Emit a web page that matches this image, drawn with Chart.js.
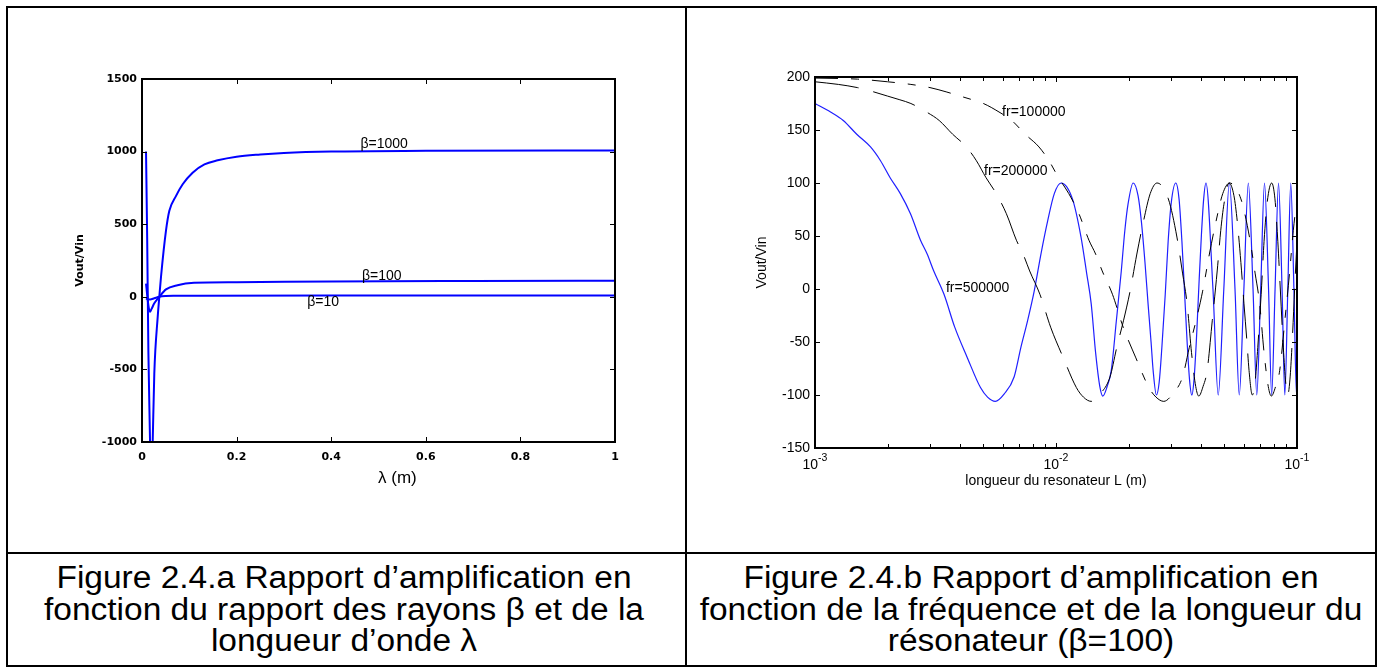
<!DOCTYPE html>
<html>
<head>
<meta charset="utf-8">
<title>Figure 2.4</title>
<script src="https://cdn.jsdelivr.net/npm/chart.js"></script>
<style>
    body {
        margin: 0;
        width: 1381px;
        height: 668px;
        position: relative;
        overflow: hidden;
        background: #fff;
        font-family: "Liberation Sans", Arial, sans-serif;
    }
    .frame {
        position: absolute;
        left: 6px; top: 6px;
        width: 1371px; height: 661px;
        border: 2px solid #000;
        box-sizing: border-box;
    }
    .vline { position: absolute; left: 685px; top: 6px; width: 2px; height: 661px; background: #000; }
    .hline { position: absolute; left: 6px; top: 552px; width: 1371px; height: 2px; background: #000; }
    canvas { position: absolute; }
    .caption {
        position: absolute;
        top: 562px;
        width: 680px;
        text-align: center;
        white-space: nowrap;
        font-size: 31px;
        line-height: 31.5px;
        color: #000;
        transform: scaleX(1.08);
    }
</style>
</head>
<body>

<div class="frame"></div>
<div class="vline"></div>
<div class="hline"></div>

<canvas id="chartA" width="676" height="544" style="left:8px; top:8px;"></canvas>
<canvas id="chartB" width="686" height="544" style="left:688px; top:8px;"></canvas>

<div class="caption" style="left:4px;">Figure 2.4.a Rapport d’amplification en<br>fonction du rapport des rayons β et de la<br>longueur d’onde λ</div>
<div class="caption" style="left:691px;">Figure 2.4.b Rapport d’amplification en<br>fonction de la fréquence et de la longueur du<br>résonateur (β=100)</div>

<script>
// ---- figure a : Vout/Vin vs lambda, three beta values ----
var lamB1000 = [0.0085, 0.011, 0.0135, 0.017, 0.019, 0.021, 0.0226, 0.026, 0.0332, 0.0366, 0.0402, 0.0507, 0.0578, 0.072, 0.086, 0.107, 0.132, 0.16, 0.2, 0.25, 0.3, 0.4, 0.6, 1.0];
var valB1000 = [1000, 390, -380, -1000, -1500, -1200, -1000, -530, -138, 0, 138, 455, 592, 695, 775, 855, 912, 940, 965, 980, 990, 1000, 1005, 1008];

var lamB100 = [0.0085, 0.0095, 0.012, 0.0145, 0.017, 0.02, 0.026, 0.0366, 0.0507, 0.075, 0.11, 0.2, 0.4, 0.7, 1.0];
var valB100 = [90, 60, -20, -80, -103, -85, -45, 0, 51, 80, 96, 100, 106, 109, 110];

var lamB10 = [0.0085, 0.012, 0.017, 0.026, 0.0366, 0.05, 0.07, 0.12, 0.4, 1.0];
var valB10 = [-10, -16, -18, -10, 0, 5, 7, 8, 9, 9];

var betaNotes = [
    {text: 'β=1000', x: 0.512, y: 1050},
    {text: 'β=100', x: 0.507, y: 139},
    {text: 'β=10', x: 0.383, y: -40}
];

// ---- figure b : Vout/Vin vs resonator length, three frequencies ----
var lenFr500k = [0.001, 0.00116, 0.00131, 0.00149, 0.0017, 0.00187, 0.00205, 0.00226, 0.00249, 0.00274,
    0.00292, 0.00311, 0.00343, 0.0038, 0.00429, 0.00486, 0.0052, 0.0056, 0.0061, 0.0067,
    0.00715, 0.00762, 0.00812, 0.00866, 0.00923, 0.00984, 0.0105,
    0.0117, 0.0127, 0.0134, 0.014, 0.0146, 0.0152, 0.01565, 0.0163, 0.01695, 0.0178, 0.01866, 0.0193, 0.0199, 0.0209,
    0.0219, 0.0226, 0.0234, 0.0241, 0.0248, 0.0253, 0.0261, 0.0268, 0.0275, 0.0284, 0.0292, 0.0301, 0.0314,
    0.0324, 0.0333, 0.0341, 0.035, 0.0358, 0.0366, 0.0374, 0.0383, 0.0392, 0.0401, 0.041, 0.0419,
    0.0448, 0.0471, 0.0497, 0.0524, 0.0553, 0.0576, 0.0602, 0.0628, 0.0657, 0.0681, 0.0707, 0.0733,
    0.0762, 0.0785, 0.0811, 0.0838, 0.0867, 0.089, 0.0916, 0.0942, 0.0971, 0.0995, 0.1021];
var valFr500k = [175, 167, 159, 146, 134, 121, 105, 90, 71, 46,
    33, 17, -5, -36, -65, -93, -102, -106, -99, -83,
    -55, -30, -2, 33, 64, 90, 100,
    85, 49, 15, -14, -60, -92, -101, -92, -77, -30, 17, 55, 80, 100,
    88, 64, 25, -14, -50, -77, -100, -88, -55, -5, 45, 82, 100,
    85, 45, 0, -50, -85, -100, -85, -45, 5, 50, 85, 100,
    0, -100, 0, 100, 0, -100, 0, 100, 0, -100, 0, 100,
    0, -100, 0, 100, 0, -100, 0, 100, 0, -100, 0];

var lenFr200k = [0.001, 0.00125, 0.0015, 0.00175, 0.002, 0.00225,
    0.0025, 0.0029, 0.003275, 0.003725, 0.00425, 0.004675, 0.005125, 0.00565, 0.006225, 0.00685,
    0.0073, 0.007775, 0.008575, 0.0095, 0.010725, 0.01215, 0.013, 0.014, 0.01525, 0.01675,
    0.017875, 0.01905, 0.0203, 0.02165, 0.023075, 0.0246, 0.02625,
    0.02925, 0.03175, 0.0335, 0.035, 0.0365, 0.038, 0.039125, 0.04075, 0.042375, 0.0445, 0.04665, 0.04825, 0.04975, 0.05225,
    0.05475, 0.0565, 0.0585, 0.06025, 0.062, 0.06325, 0.06525, 0.067, 0.06875, 0.071, 0.073, 0.07525, 0.0785,
    0.081, 0.08325, 0.08525, 0.0875, 0.0895, 0.0915, 0.0935, 0.09575, 0.098, 0.10025];
var valFr200k = [195.5, 193, 190, 186, 182, 178.5,
    175, 167, 159, 146, 134, 121, 105, 90, 71, 46,
    33, 17, -5, -36, -65, -93, -102, -106, -99, -83,
    -55, -30, -2, 33, 64, 90, 100,
    85, 49, 15, -14, -60, -92, -101, -92, -77, -30, 17, 55, 80, 100,
    88, 64, 25, -14, -50, -77, -100, -88, -55, -5, 45, 82, 100,
    85, 45, 0, -50, -85, -100, -85, -45, 5, 50];

var lenFr100k = [0.001, 0.0015, 0.002, 0.0025, 0.003, 0.0035, 0.004, 0.0045,
    0.005, 0.0058, 0.00655, 0.00745, 0.0085, 0.00935, 0.01025, 0.0113, 0.01245, 0.0137,
    0.0146, 0.01555, 0.01715, 0.019, 0.02145, 0.0243, 0.026, 0.028, 0.0305, 0.0335,
    0.03575, 0.0381, 0.0406, 0.0433, 0.04615, 0.0492, 0.0525,
    0.0585, 0.0635, 0.067, 0.07, 0.073, 0.076, 0.07825, 0.0815, 0.08475, 0.089, 0.0933, 0.0965, 0.0995, 0.1045];
var valFr100k = [199, 198, 195.5, 193, 190, 186, 182, 178.5,
    175, 167, 159, 146, 134, 121, 105, 90, 71, 46,
    33, 17, -5, -36, -65, -93, -102, -106, -99, -83,
    -55, -30, -2, 33, 64, 90, 100,
    85, 49, 15, -14, -60, -92, -101, -92, -77, -30, 17, 55, 80, 100];

var lenTicks = [0.001, 0.002, 0.003, 0.004, 0.005, 0.006, 0.007, 0.008, 0.009,
    0.01, 0.02, 0.03, 0.04, 0.05, 0.06, 0.07, 0.08, 0.09, 0.1];

var freqNotes = [
    {text: 'fr=100000', x: 0.00809, y: 167},
    {text: 'fr=200000', x: 0.00681, y: 111},
    {text: 'fr=500000', x: 0.00473, y: 1}
];

function pts(xs, ys) {
    return xs.map(function (v, i) { return {x: v, y: ys[i]}; });
}

Chart.defaults.font.family = '"Liberation Sans", Arial, sans-serif';
Chart.defaults.color = '#000';

// matlab style box: frame, inward ticks, text notes, 10^n labels
var boxTicks = {
    id: 'boxTicks',
    afterDatasetsDraw: function (chart, args, opts) {
        var ctx = chart.ctx, a = chart.chartArea;
        var xs = chart.scales.x, ys = chart.scales.y;
        ctx.save();
        ctx.setLineDash([]);
        ctx.strokeStyle = '#000';
        ctx.lineWidth = 1;
        xs.ticks.forEach(function (t) {
            var px = Math.round(xs.getPixelForValue(t.value)) + 0.5;
            var len = opts.tickLen;
            if (opts.log) {
                var e = Math.log10(t.value);
                if (Math.abs(e - Math.round(e)) > 1e-6) len = opts.minorLen;
            }
            ctx.beginPath();
            ctx.moveTo(px, a.bottom); ctx.lineTo(px, a.bottom - len);
            ctx.moveTo(px, a.top); ctx.lineTo(px, a.top + len);
            ctx.stroke();
        });
        ys.ticks.forEach(function (t) {
            var py = Math.round(ys.getPixelForValue(t.value)) + 0.5;
            ctx.beginPath();
            ctx.moveTo(a.left, py); ctx.lineTo(a.left + opts.tickLen, py);
            ctx.moveTo(a.right, py); ctx.lineTo(a.right - opts.tickLen, py);
            ctx.stroke();
        });
        ctx.lineWidth = 2;
        ctx.strokeRect(a.left, a.top, a.right - a.left, a.bottom - a.top);

        ctx.fillStyle = '#000';
        ctx.textAlign = 'center';
        ctx.textBaseline = 'middle';
        ctx.font = opts.noteFont;
        (opts.notes || []).forEach(function (n) {
            ctx.fillText(n.text, xs.getPixelForValue(n.x), ys.getPixelForValue(n.y));
        });

        if (opts.log) {
            xs.ticks.forEach(function (t) {
                var e = Math.log10(t.value);
                if (Math.abs(e - Math.round(e)) > 1e-6) return;
                var px = xs.getPixelForValue(t.value);
                var sup = String(Math.round(e));
                ctx.font = '14px "Liberation Sans", Arial, sans-serif';
                var wb = ctx.measureText('10').width;
                ctx.font = '10.5px "Liberation Sans", Arial, sans-serif';
                var ws = ctx.measureText(sup).width;
                var x0 = px - (wb + ws) / 2;
                ctx.textAlign = 'left';
                ctx.font = '14px "Liberation Sans", Arial, sans-serif';
                ctx.fillText('10', x0, a.bottom + 17);
                ctx.font = '10.5px "Liberation Sans", Arial, sans-serif';
                ctx.fillText(sup, x0 + wb, a.bottom + 10);
            });
        }
        ctx.restore();
    }
};

var boldTick = {family: '"DejaVu Sans", sans-serif', size: 11, weight: 'bold'};

new Chart(document.getElementById('chartA'), {
    type: 'line',
    data: {
        datasets: [
            {data: pts(lamB1000, valB1000), borderColor: '#0000ff', borderWidth: 2},
            {data: pts(lamB100, valB100), borderColor: '#0000ff', borderWidth: 2},
            {data: pts(lamB10, valB10), borderColor: '#0000ff', borderWidth: 2}
        ]
    },
    options: {
        responsive: false,
        animation: false,
        elements: {point: {radius: 0}, line: {cubicInterpolationMode: 'monotone'}},
        layout: {padding: {left: 0, top: 71, right: 69, bottom: 0}},
        plugins: {
            legend: {display: false},
            tooltip: {enabled: false},
            boxTicks: {tickLen: 5, notes: betaNotes, noteFont: '14px "Liberation Sans", Arial, sans-serif'}
        },
        scales: {
            x: {
                type: 'linear', min: 0, max: 1,
                afterFit: function (s) { s.height = 110; },
                grid: {display: false, drawTicks: false},
                border: {display: false},
                ticks: {stepSize: 0.2, padding: 9, font: boldTick, maxRotation: 0,
                    callback: function (v) { return String(Math.round(v * 10) / 10); }},
                title: {display: true, text: '        λ (m)', font: {size: 17}, padding: {top: 0, bottom: 63}}
            },
            y: {
                min: -1000, max: 1500,
                afterFit: function (s) { s.width = 134; },
                grid: {display: false, drawTicks: false},
                border: {display: false},
                ticks: {stepSize: 500, padding: 5, font: boldTick,
                    callback: function (v) { return String(v); }},
                title: {display: true, text: 'Vout/Vin', font: boldTick, padding: {top: 66, bottom: 0}}
            }
        }
    },
    plugins: [boxTicks]
});

new Chart(document.getElementById('chartB'), {
    type: 'line',
    data: {
        datasets: [
            {data: pts(lenFr100k, valFr100k), borderColor: '#000', borderWidth: 1, borderDash: [23, 13, 8, 13]},
            {data: pts(lenFr200k, valFr200k), borderColor: '#000', borderWidth: 1, borderDash: [44, 15]},
            {data: pts(lenFr500k, valFr500k), borderColor: '#1f1fff', borderWidth: 1.2}
        ]
    },
    options: {
        responsive: false,
        animation: false,
        elements: {point: {radius: 0}, line: {cubicInterpolationMode: 'monotone'}},
        layout: {padding: {left: 0, top: 69, right: 77, bottom: 0}},
        plugins: {
            legend: {display: false},
            tooltip: {enabled: false},
            boxTicks: {tickLen: 5, minorLen: 4, log: true, notes: freqNotes, noteFont: '14px "Liberation Sans", Arial, sans-serif'}
        },
        scales: {
            x: {
                type: 'logarithmic', min: 0.001, max: 0.1,
                afterBuildTicks: function (s) { s.ticks = lenTicks.map(function (v) { return {value: v}; }); },
                afterFit: function (s) { s.height = 104; },
                grid: {display: false, drawTicks: false},
                border: {display: false},
                ticks: {display: false},
                title: {display: true, text: 'longueur du resonateur L (m)', font: {size: 14}, padding: {top: 0, bottom: 62}}
            },
            y: {
                min: -150, max: 200,
                afterFit: function (s) { s.width = 127; },
                grid: {display: false, drawTicks: false},
                border: {display: false},
                ticks: {stepSize: 50, padding: 5, font: {size: 14},
                    callback: function (v) { return String(v); }},
                title: {display: true, text: 'Vout/Vin', font: {size: 14}, padding: {top: 66, bottom: 0}}
            }
        }
    },
    plugins: [boxTicks]
});
</script>
</body>
</html>
